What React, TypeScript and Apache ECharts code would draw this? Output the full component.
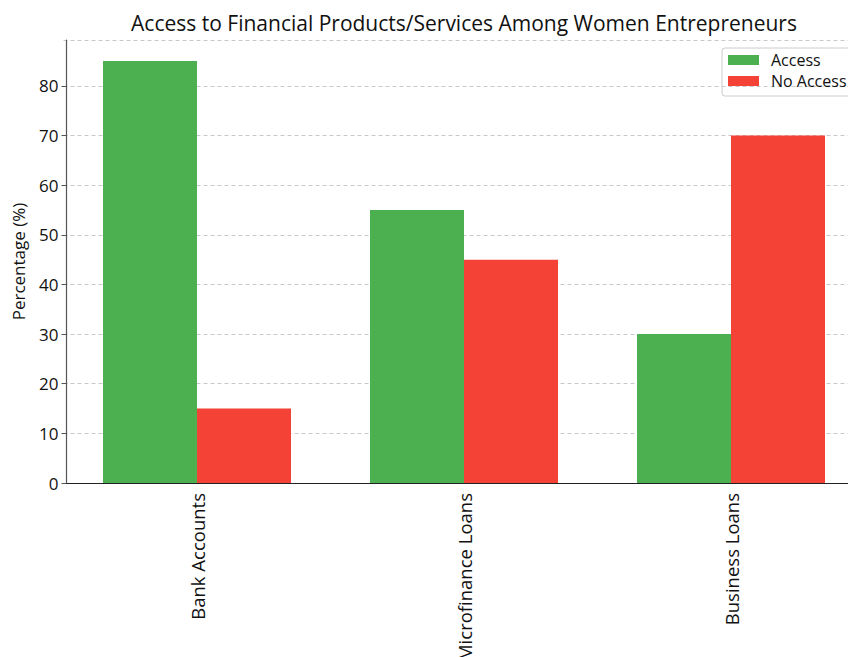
import React, { useEffect, useRef } from "react";
import * as echarts from "echarts";

const categories = ["Bank Accounts", "Microfinance Loans", "Business Loans"];
const accessValues = [85, 55, 30];
const noAccessValues = [15, 45, 70];
const seriesNames = ["Access", "No Access"];
const chartTitle = "Access to Financial Products/Services Among Women Entrepreneurs";
const yAxisTitle = "Percentage (%)";

const FONT = "'Open Sans', Roboto, 'DejaVu Sans', sans-serif";

export default function App() {
  const ref = useRef<HTMLDivElement>(null);
  useEffect(() => {
    if (!ref.current) return;
    const chart = echarts.init(ref.current, null, { renderer: "svg" });
    chart.setOption({
      animation: false,
      backgroundColor: "#ffffff",
      textStyle: { fontFamily: FONT },
      title: {
        text: chartTitle,
        left: 459,
        textAlign: "center",
        top: 7,
        textStyle: { fontSize: 21, fontWeight: "normal", color: "#111", fontFamily: FONT },
      },
      legend: {
        data: seriesNames,
        orient: "vertical",
        left: 722,
        top: 48,
        padding: [4, 10, 7, 6],
        itemWidth: 31,
        itemHeight: 10,
        itemGap: 5,
        icon: "rect",
        borderColor: "#cccccc",
        borderWidth: 1,
        borderRadius: 3,
        textStyle: { fontSize: 16, color: "#111", fontFamily: FONT, padding: [0, 0, 0, 7] },
      },
      grid: {
        left: 63.5,
        top: 40,
        width: 801,
        height: 443,
        containLabel: false,
        outerBoundsMode: "none",
      },
      xAxis: {
        type: "category",
        data: categories,
        axisLine: { lineStyle: { color: "#222", width: 1.2 } },
        axisTick: { alignWithLabel: true, length: 5, lineStyle: { color: "#222" } },
        axisLabel: { rotate: 90, fontSize: 18.5, color: "#111", margin: 10, fontFamily: FONT, interval: 0 },
        splitLine: { show: false },
      },
      yAxis: {
        type: "value",
        min: 0,
        max: 89.25,
        interval: 10,
        offset: -3,
        name: yAxisTitle,
        nameLocation: "middle",
        nameGap: 40,
        nameTextStyle: { fontSize: 17, color: "#111", fontFamily: FONT },
        axisLine: { show: true, lineStyle: { color: "#555", width: 1.2 } },
        axisTick: { show: true, length: 5, lineStyle: { color: "#555" } },
        axisLabel: {
          fontSize: 17,
          color: "#111",
          margin: 8,
          fontFamily: FONT,
          showMaxLabel: false,
          formatter: (v: number) => (v % 10 === 0 ? String(v) : ""),
        },
        splitLine: { show: true, lineStyle: { color: "#c8c8c8", type: [4, 3], width: 1 } },
      },
      series: [
        {
          name: seriesNames[0],
          type: "bar",
          data: accessValues,
          barWidth: 94,
          barGap: "0%",
          itemStyle: { color: "#4CAF50" },
        },
        {
          name: seriesNames[1],
          type: "bar",
          data: noAccessValues,
          barWidth: 94,
          barGap: "0%",
          itemStyle: { color: "#F44336" },
        },
      ],
    });
    return () => chart.dispose();
  }, []);
  return <div ref={ref} style={{ position: "absolute", left: 0, top: 0, width: 848, height: 657 }} />;
}
